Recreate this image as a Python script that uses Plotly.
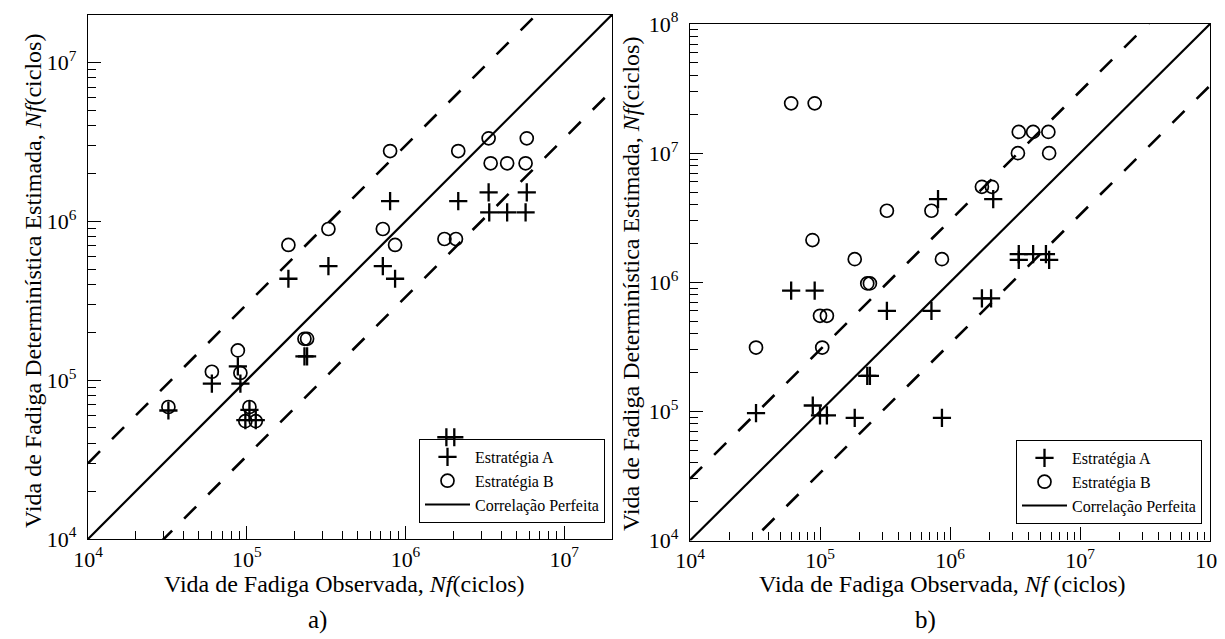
import plotly.graph_objects as go

# ---------------- data: panel a) ----------------
a_A_obs = [1.83e5, 3.27e5, 8.0e5, 7.2e5, 8.6e5, 2.15e6, 3.34e6, 5.81e6, 3.37e6, 4.37e6, 5.71e6,
           3.21e4, 6.03e4, 8.79e4, 9.12e4, 2.31e5, 2.40e5, 1.04e5, 9.8e4, 1.14e5, 1.81e6, 2.03e6]
a_A_est = [4.35e5, 5.22e5, 1.34e6, 5.22e5, 4.35e5, 1.34e6, 1.52e6, 1.52e6, 1.14e6, 1.14e6, 1.14e6,
           6.44e4, 9.5e4, 1.22e5, 9.5e4, 1.41e5, 1.41e5, 6.5e4, 5.6e4, 5.6e4, 4.37e4, 4.37e4]
a_B_obs = [1.83e5, 3.27e5, 8.0e5, 7.2e5, 8.6e5, 1.76e6, 2.08e6, 2.15e6, 3.34e6, 5.81e6, 3.44e6,
           4.37e6, 5.71e6, 3.21e4, 6.03e4, 8.79e4, 9.12e4, 2.31e5, 2.40e5, 1.04e5, 9.8e4, 1.14e5]
a_B_est = [7.1e5, 8.95e5, 2.77e6, 8.95e5, 7.1e5, 7.74e5, 7.74e5, 2.77e6, 3.33e6, 3.33e6, 2.32e6,
           2.32e6, 2.32e6, 6.78e4, 1.13e5, 1.54e5, 1.11e5, 1.82e5, 1.82e5, 6.78e4, 5.52e4, 5.52e4]

# ---------------- data: panel b) ----------------
b_A_obs = [6.0e4, 9.1e4, 3.27e5, 7.2e5, 8.09e5, 2.15e6, 1.76e6, 2.07e6, 3.38e6, 3.38e6, 4.36e6,
           5.47e6, 5.79e6, 3.22e4, 8.8e4, 1.0e5, 1.13e5, 1.85e5, 8.67e5, 2.31e5, 2.42e5]
b_A_est = [8.6e5, 8.6e5, 6.0e5, 6.0e5, 4.41e6, 4.41e6, 7.5e5, 7.5e5, 1.65e6, 1.49e6, 1.65e6,
           1.65e6, 1.49e6, 9.7e4, 1.11e5, 9.3e4, 9.3e4, 8.9e4, 8.9e4, 1.88e5, 1.88e5]
b_B_obs = [6.0e4, 9.1e4, 8.75e4, 3.27e5, 7.2e5, 1.85e5, 8.67e5, 2.31e5, 2.42e5, 1.0e5, 1.13e5,
           1.76e6, 2.1e6, 3.38e6, 4.36e6, 5.71e6, 3.33e6, 5.79e6, 3.22e4, 1.04e5]
b_B_est = [2.43e7, 2.43e7, 2.12e6, 3.58e6, 3.58e6, 1.51e6, 1.51e6, 9.8e5, 9.8e5, 5.5e5, 5.5e5,
           5.48e6, 5.48e6, 1.46e7, 1.46e7, 1.46e7, 1.0e7, 1.0e7, 3.12e5, 3.12e5]

# reference lines: perfect correlation and factor-of-3 band
ref_x = [1e4, 1e8]
band_factor = 3.0

major_exp_a = [4, 5, 6, 7]
major_exp_b = [4, 5, 6, 7, 8]
minor_mult = [2, 3, 4, 5, 6, 7, 8, 9]

legend_names = ["Estratégia A", "Estratégia B", "Correlação Perfeita"]

FONT = "Liberation Serif, Times New Roman, DejaVu Serif, serif"

fig = go.Figure()


def add_panel(xa, ya, legend, tag, A_obs, A_est, B_obs, B_est):
    fig.add_trace(go.Scatter(x=A_obs, y=A_est, mode="markers", name=legend_names[0],
                             xaxis=xa, yaxis=ya, legend=legend, legendgroup=tag + "A",
                             marker=dict(symbol="cross-thin", size=13,
                                         line=dict(color="black", width=2.3))))
    fig.add_trace(go.Scatter(x=B_obs, y=B_est, mode="markers", name=legend_names[1],
                             xaxis=xa, yaxis=ya, legend=legend, legendgroup=tag + "B",
                             marker=dict(symbol="circle-open", size=13, color="black",
                                         line=dict(color="black", width=1.7))))
    fig.add_trace(go.Scatter(x=ref_x, y=ref_x, mode="lines", name=legend_names[2],
                             xaxis=xa, yaxis=ya, legend=legend, legendgroup=tag + "C",
                             line=dict(color="black", width=2.2)))
    fig.add_trace(go.Scatter(x=ref_x, y=[v * band_factor for v in ref_x], mode="lines",
                             xaxis=xa, yaxis=ya, showlegend=False, hoverinfo="skip",
                             line=dict(color="black", width=2.6, dash="17px,17px")))
    fig.add_trace(go.Scatter(x=ref_x, y=[v / band_factor for v in ref_x], mode="lines",
                             xaxis=xa, yaxis=ya, showlegend=False, hoverinfo="skip",
                             line=dict(color="black", width=2.6, dash="17px,17px")))


add_panel("x", "y", "legend", "a", a_A_obs, a_A_est, a_B_obs, a_B_est)
add_panel("x2", "y2", "legend2", "b", b_A_obs, b_A_est, b_B_obs, b_B_est)


def axis(domain, rng, exps, anchor, standoff):
    return dict(
        type="log", domain=domain, range=rng, anchor=anchor,
        tickmode="array",
        tickvals=[10 ** e for e in exps],
        ticktext=["10<sup>%d</sup>" % e for e in exps],
        ticks="inside", ticklen=13, tickwidth=1.2, tickcolor="black",
        minor=dict(tickmode="array",
                   tickvals=[m * 10 ** e for e in exps for m in minor_mult],
                   ticks="inside", ticklen=8, tickwidth=1.2, tickcolor="black"),
        showline=True, linecolor="black", linewidth=1.3, mirror=True,
        showgrid=False, zeroline=False, automargin=False,
        ticklabelstandoff=standoff, ticklabeloverflow="allow",
        tickfont=dict(family=FONT, size=22, color="black"),
    )


def legend_cfg(x_px, y_px):
    return dict(x=x_px / W, y=1 - y_px / H, xanchor="right", yanchor="bottom",
                bordercolor="black", borderwidth=1, bgcolor="rgba(255,255,255,0)",
                itemwidth=45, font=dict(family=FONT, size=16, color="black"),
                tracegroupgap=0)


W, H = 1225, 639
fig.update_layout(
    width=W, height=H,
    margin=dict(l=0, r=0, t=0, b=0),
    paper_bgcolor="white", plot_bgcolor="white",
    showlegend=True,
    font=dict(family=FONT, color="black"),
    xaxis=axis([80 / W, 604 / W], [4, 7.301], major_exp_a, "y", 0),
    yaxis=axis([1 - 531 / H, 1 - 6.7 / H], [4, 7.301], major_exp_a, "x", 6),
    xaxis2=axis([682 / W, 1202 / W], [4, 8], major_exp_b, "y2", 0),
    yaxis2=axis([1 - 532.5 / H, 1 - 16 / H], [4, 8], major_exp_b, "x2", 6),
    legend=legend_cfg(597, 515),
    legend2=legend_cfg(1194, 516),
)

tfont = dict(family=FONT, size=24, color="black")
annots = [
    dict(text="Vida de Fadiga Observada, <i>Nf</i>(ciclos)", x=336 / W, y=1 - 576 / H),
    dict(text="Vida de Fadiga Observada, <i>Nf</i> (ciclos)", x=934 / W, y=1 - 576 / H),
    dict(text="a)", x=309 / W, y=1 - 612 / H, size=25),
    dict(text="b)", x=917 / W, y=1 - 612 / H, size=25),
    dict(text="Vida de Fadiga Determinística Estimada, <i>Nf</i>(ciclos)", x=25 / W,
         y=1 - 273 / H, textangle=-90),
    dict(text="Vida de Fadiga Determinística Estimada, <i>Nf</i>(ciclos)", x=623 / W,
         y=1 - 276 / H, textangle=-90),
]
for a in annots:
    f = dict(tfont)
    if "size" in a:
        f["size"] = a.pop("size")
    fig.add_annotation(xref="paper", yref="paper", xanchor="center", yanchor="middle",
                       showarrow=False, font=f, **a)

fig.write_html("out.html")
